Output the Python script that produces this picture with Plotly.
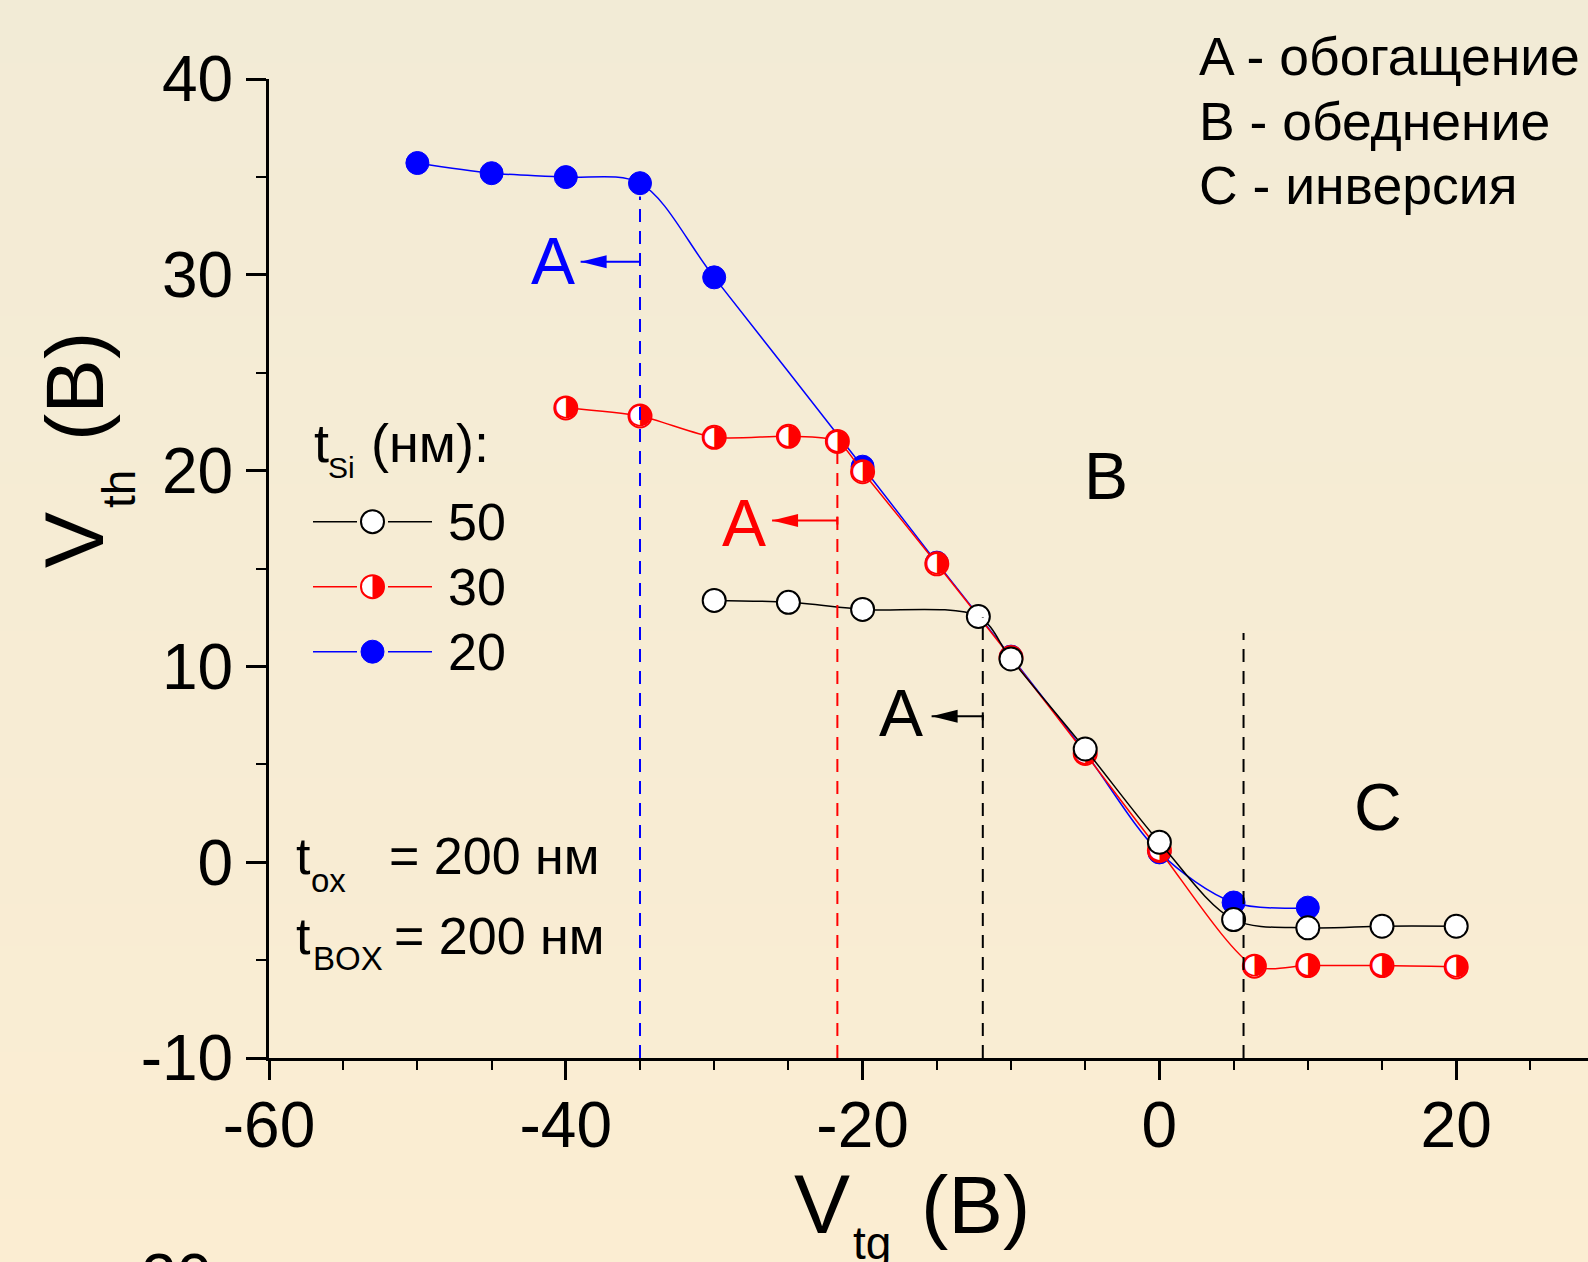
import plotly.graph_objects as go

# ---------------- data ----------------
x_50 = [-30, -25, -20, -12.2, -10, -5, 0, 5, 10, 15, 20]
y_50 = [13.37, 13.27, 12.91, 12.55, 10.38, 5.78, 1.02, -2.93, -3.35, -3.27, -3.27]

x_30 = [-40, -35, -30, -25, -21.7, -20, -15, -10, -5, 0, 6.4, 10, 15, 20]
y_30 = [23.2, 22.79, 21.70, 21.75, 21.49, 19.94, 15.24, 10.45, 5.55, 0.6, -5.31, -5.28, -5.28, -5.35]

x_20 = [-50, -45, -40, -35, -30, -20, -15, -10, -5, 0, 5, 10]
y_20 = [35.71, 35.19, 34.99, 34.68, 29.87, 20.20, 15.3, 10.5, 5.6, 0.5, -2.06, -2.32]

series_names = ["50", "30", "20"]

# regime boundaries (dashed verticals)
bound_x = [-35, -21.7, -11.9, 5.67]
bound_top = [34.0, 20.9, 12.5, 11.7]
bound_color = ["#0000ff", "#ff0000", "#000000", "#000000"]

# "A <-" arrows
arrow_tail_x = [-35, -21.7, -11.9]
arrow_tip_x = [-39.0, -26.1, -15.35]
arrow_y = [30.67, 17.45, 7.45]
arrow_color = ["#0000ff", "#ff0000", "#000000"]
labelA_x = [-40.89, -27.98, -17.44]
labelA_y = [30.71, 17.31, 7.61]

region_B = (-3.62, 19.73)
region_C = (14.7, 2.8)

x_tickvals = [-60, -40, -20, 0, 20]
x_ticktext = ["-60", "-40", "-20", "0", "20"]
y_tickvals = [-10, 0, 10, 20, 30, 40]
y_ticktext = ["-10", "0", "10", "20", "30", "40"]

# ---------------- geometry ----------------
W, H = 1588, 1262
L, R, T, B = 269, 0, 79, 204
PW = W - L - R
PH = H - T - B
FONT = "Liberation Sans, Arial, sans-serif"
XMAX = -60 + PW / 14.84


def px(X):
    return (X - L) / PW


def py(Y):
    return (H - B - Y) / PH


annotations = []
shapes = []


def text_at(X, Ybase, text, size, color="black", xanchor="left", angle=0, center_y=False):
    if angle == 0:
        Yc = Ybase if center_y else Ybase - 0.3465 * size
        annotations.append(dict(
            x=px(X), y=py(Yc), xref="paper", yref="paper", text=text, showarrow=False,
            xanchor=xanchor, yanchor="middle", borderpad=0,
            font=dict(family=FONT, size=size, color=color)))
    else:
        annotations.append(dict(
            x=px(X), y=py(Ybase), xref="paper", yref="paper", text=text, showarrow=False,
            xanchor="center", yanchor="middle", textangle=angle, borderpad=0,
            font=dict(family=FONT, size=size, color=color)))


# ---------------- background gradient ----------------
top_c = (242, 235, 214)
bot_c = (251, 237, 210)
NB = 60
for i in range(NB):
    f = (i + 0.5) / NB
    c = tuple(round(top_c[k] + (bot_c[k] - top_c[k]) * f) for k in range(3))
    Y0 = H * i / NB
    Y1 = H * (i + 1) / NB + 1
    shapes.append(dict(type="rect", xref="paper", yref="paper", layer="below",
                       x0=px(0), x1=px(W), y0=py(Y1), y1=py(Y0),
                       fillcolor="rgb(%d,%d,%d)" % c, line=dict(width=0)))

fig = go.Figure()

MS = 23
# ---------------- data traces ----------------
fig.add_trace(go.Scatter(
    x=x_20, y=y_20, mode="lines+markers", name=series_names[2],
    line=dict(color="#0000ff", width=1.5, shape="spline", smoothing=0.9),
    marker=dict(symbol="circle", size=MS, color="#0000ff", line=dict(color="#0000ff", width=1))))

fig.add_trace(go.Scatter(
    x=x_30, y=y_30, mode="lines+markers", name=series_names[1],
    line=dict(color="#ff0000", width=1.5, shape="spline", smoothing=0.75),
    marker=dict(symbol="circle", size=MS, color="white", line=dict(color="#ff0000", width=2))))
# right-half fill of the half-filled markers
fig.add_trace(go.Scatter(
    x=x_30, y=y_30, mode="text", text=["\u25D1"] * len(x_30), textposition="middle center",
    textfont=dict(family="DejaVu Sans", size=29, color="#ff0000"), hoverinfo="skip"))

fig.add_trace(go.Scatter(
    x=x_50, y=y_50, mode="lines+markers", name=series_names[0],
    line=dict(color="#000000", width=1.5, shape="spline", smoothing=0.9),
    marker=dict(symbol="circle", size=MS, color="white", line=dict(color="#000000", width=2))))

# dashed regime boundaries
for bx, bt, bc in zip(bound_x, bound_top, bound_color):
    fig.add_trace(go.Scatter(x=[bx, bx], y=[-10, bt], mode="lines",
                             line=dict(color=bc, width=2, dash="13px,9px"), hoverinfo="skip"))

# arrows "A <-"
for tx, hx, ay, ac, lx, ly in zip(arrow_tail_x, arrow_tip_x, arrow_y, arrow_color, labelA_x, labelA_y):
    shapes.append(dict(type="line", xref="x", yref="y", x0=hx, x1=tx, y0=ay, y1=ay,
                       line=dict(color=ac, width=2)))
    shapes.append(dict(type="path", xref="x", yref="y", xsizemode="pixel", ysizemode="pixel",
                       xanchor=hx, yanchor=ay, path="M0,0 L26,6.5 L26,-6.5 Z",
                       fillcolor=ac, line=dict(width=0)))
    shapes.append(dict(type="line", xref="x", yref="y", ysizemode="pixel", yanchor=ay,
                       x0=tx, x1=tx, y0=-4, y1=4, line=dict(color=ac, width=2)))
    annotations.append(dict(x=lx, y=ly, xref="x", yref="y", text="A", showarrow=False,
                            xanchor="center", yanchor="middle", borderpad=0,
                            font=dict(family=FONT, size=66, color=ac)))

for (rx, ry), t in [(region_B, "B"), (region_C, "C")]:
    annotations.append(dict(x=rx, y=ry, xref="x", yref="y", text=t, showarrow=False,
                            xanchor="center", yanchor="middle", borderpad=0,
                            font=dict(family=FONT, size=66, color="black")))

# ---------------- legend (manual) ----------------
leg_rows = [521.7, 586.7, 651.7]
leg_colors = ["#000000", "#ff0000", "#0000ff"]
leg_fill = ["white", "white", "#0000ff"]
half = "M0,-11.5 C6.35,-11.5 11.5,-6.35 11.5,0 C11.5,6.35 6.35,11.5 0,11.5 Z"
for i, (ry, lc, fc) in enumerate(zip(leg_rows, leg_colors, leg_fill)):
    for a, b in [(313, 357), (388, 432)]:
        shapes.append(dict(type="line", xref="paper", yref="paper", x0=px(a), x1=px(b),
                           y0=py(ry), y1=py(ry), line=dict(color=lc, width=1.5)))
    shapes.append(dict(type="circle", xref="paper", yref="paper", xsizemode="pixel",
                       ysizemode="pixel", xanchor=px(372.5), yanchor=py(ry),
                       x0=-11.5, x1=11.5, y0=-11.5, y1=11.5, fillcolor=fc,
                       line=dict(color=lc, width=2 if fc == "white" else 1)))
    if i == 1:
        shapes.append(dict(type="path", xref="paper", yref="paper", xsizemode="pixel",
                           ysizemode="pixel", xanchor=px(372.5), yanchor=py(ry), path=half,
                           fillcolor=lc, line=dict(width=0)))
    text_at(447, ry, series_names[i], 52, center_y=True)

text_at(313, 462, "t", 54)
text_at(327, 478, "Si", 30)
text_at(370, 462, "(нм):", 54)

# ---------------- other texts ----------------
text_at(1198, 56.5, "A - обогащение", 53.5, center_y=True)
text_at(1198, 122, "B - обеднение", 53.5, center_y=True)
text_at(1198, 185, "C - инверсия", 53.5, center_y=True)

text_at(295, 874, "t", 52)
text_at(310, 892, "ox", 33)
text_at(388, 874, "= 200 нм", 52)
text_at(295, 954, "t", 52)
text_at(312, 970, "BOX", 33)
text_at(393, 954, "= 200 нм", 52)

# axis titles
text_at(821.5, 1233, "V", 84, xanchor="center")
text_at(852, 1259, "tg", 46)
text_at(975.5, 1233, "(B)", 82, xanchor="center")

text_at(103 - 0.3465 * 84, 540, "V", 84, angle=-90)
text_at(135 - 0.3465 * 46, 489, "th", 46, angle=-90)
text_at(103 - 0.3465 * 82, 386.5, "(B)", 82, angle=-90)

# fragment of the next chart below
text_at(176.5, 1299.5, "20", 64, xanchor="center")

# ---------------- layout ----------------
x_alias = {t.replace("-", "\u2212"): t for t in x_ticktext}
y_alias = {t.replace("-", "\u2212"): t for t in y_ticktext}

fig.update_layout(
    width=W, height=H, showlegend=False,
    margin=dict(l=L, r=R, t=T, b=B, pad=0),
    paper_bgcolor="rgb(246,236,212)", plot_bgcolor="rgba(0,0,0,0)",
    font=dict(family=FONT, color="black"),
    shapes=shapes, annotations=annotations,
    xaxis=dict(range=[-60, XMAX], showgrid=False, zeroline=False, showline=True,
               linecolor="black", linewidth=3, ticks="outside", ticklen=19, tickwidth=2.5,
               tickcolor="black", tickmode="linear", tick0=0, dtick=20, ticklabelstandoff=-10,
               labelalias=x_alias, tickfont=dict(family=FONT, size=64, color="black"),
               minor=dict(ticks="outside", ticklen=9, tickwidth=2, tickcolor="black", dtick=5, tick0=0)),
    yaxis=dict(range=[-10, 40], showgrid=False, zeroline=False, showline=True,
               linecolor="black", linewidth=3, ticks="outside", ticklen=20, tickwidth=2.5,
               tickcolor="black", tickmode="linear", tick0=0, dtick=10,
               labelalias=y_alias, tickfont=dict(family=FONT, size=64, color="black"),
               minor=dict(ticks="outside", ticklen=10, tickwidth=2, tickcolor="black", dtick=5, tick0=0)),
)

fig.write_html("out.html", config={"displayModeBar": False},
               post_script="document.body.style.margin='0';document.body.style.overflow='hidden';")
